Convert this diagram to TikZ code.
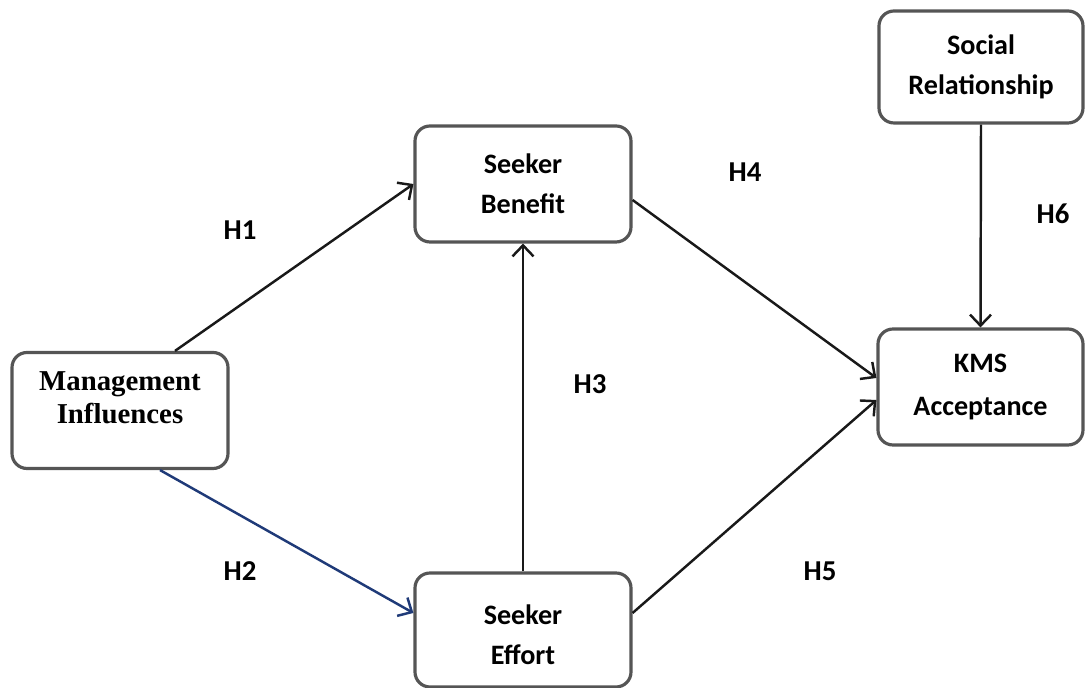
\documentclass[tikz,border=0pt]{standalone}
\usepackage{fontspec}
\setmainfont{Carlito}
\newfontfamily\serifbold{Liberation Serif}
\usetikzlibrary{arrows.meta}
\definecolor{boxline}{HTML}{555555}
\definecolor{navyline}{HTML}{1F3A78}
\tikzset{
	box/.style={draw=boxline,line width=0.9pt,rounded corners=0.15cm,fill=white,
		minimum width=2.16cm,minimum height=1.16cm,align=center,
		font=\fontsize{8}{11.4}\selectfont\bfseries,inner sep=0pt},
	link/.style={line width=0.7pt,draw=black!90,-{Straight Barb[length=1.1mm,width=2.1mm,line width=0.7pt]}},
	hyp/.style={font=\fontsize{8.2}{10}\selectfont\bfseries}
}
\begin{document}
\begin{tikzpicture}
		\useasboundingbox (0,0) rectangle (10.85,-6.88);
		\node[box,font=\fontsize{8.2}{9.6}\serifbold\bfseries] (mi) at (1.20,-4.105) {Management\\Influences\\[-0.08cm]};
		\node[box] (sb) at (5.23,-1.84) {Seeker\\Benefit};
		\node[box,minimum height=1.14cm] (se) at (5.23,-6.30) {\\[-0.1cm]Seeker\\Effort};
		\node[box,minimum width=2.04cm,minimum height=1.12cm] (sr) at (9.81,-0.67) {Social\\Relationship};
		\node[box,minimum width=2.05cm,font=\fontsize{8}{12.4}\selectfont\bfseries] (kms) at (9.805,-3.87) {KMS\\Acceptance};
		% hypotheses
		\draw[link] ([xshift=0.55cm]mi.north) -- (sb.west);
		\draw[link,draw=navyline] ([xshift=0.40cm]mi.south) -- ([yshift=0.17cm]se.west);
		\draw[link] (se.north) -- (sb.south);
		\draw[link] ([yshift=-0.16cm]sb.east) -- ([yshift=0.09cm]kms.west);
		\draw[link] ([yshift=0.17cm]se.east) -- ([yshift=-0.13cm]kms.west);
		\draw[link] (sr.south) -- (kms.north);
		\node[hyp] (h1) at (2.40,-2.30) {H1}; \node[hyp] (h2) at (2.40,-5.71) {H2};
		\node[hyp] (h3) at (5.90,-3.84) {H3}; \node[hyp] (h4) at (7.45,-1.72) {H4};
		\node[hyp] (h5) at (8.20,-5.71) {H5}; \node[hyp] (h6) at (10.53,-2.14) {H6};
	\end{tikzpicture}
\end{document}
